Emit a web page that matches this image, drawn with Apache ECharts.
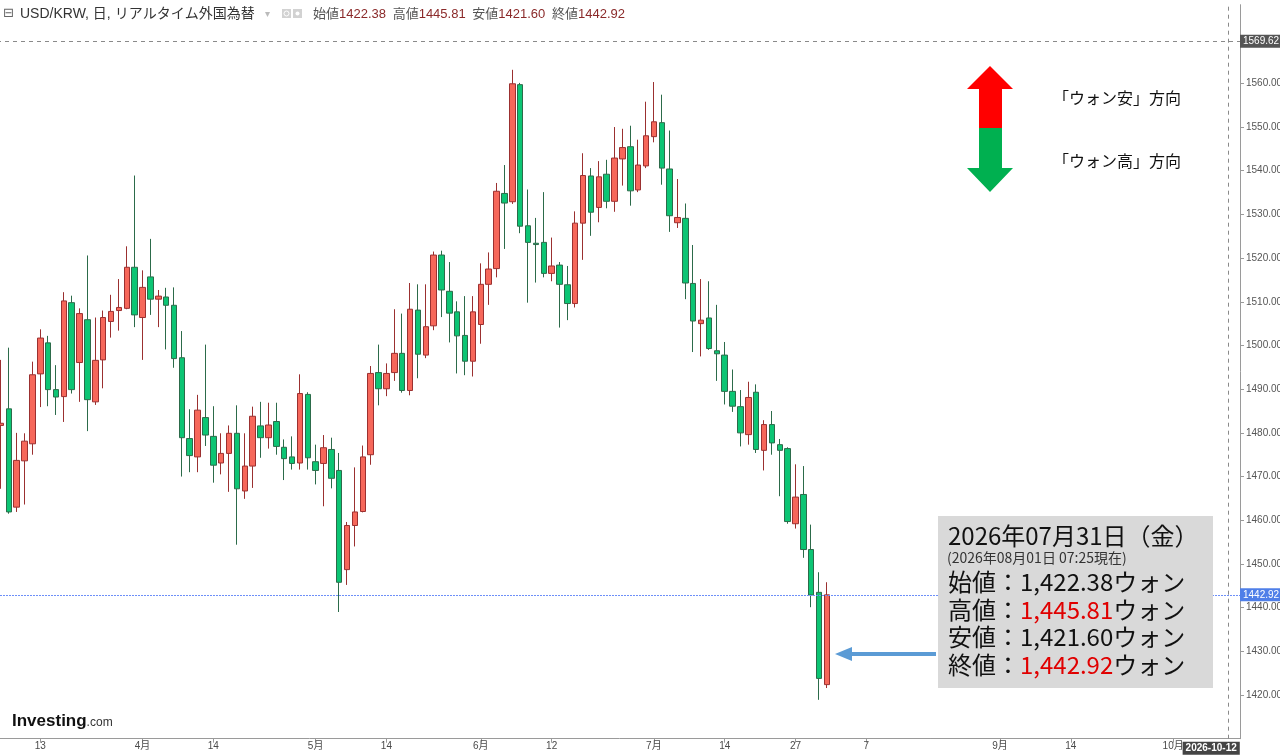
<!DOCTYPE html>
<html>
<head>
<meta charset="utf-8">
<script src="https://cdn.jsdelivr.net/npm/echarts@6/dist/echarts.min.js"></script>
<style>
html,body{margin:0;padding:0;background:#fff;overflow:hidden;}
#chart{width:1280px;height:755px;}
</style>
</head>
<body>
<div id="chart"></div>
<script>
// ---- data ----
const firstDate = '2026-03-06';
const lastAxisDate = '2026-10-13';
const openVals = [1481.7,1485.5,1463.0,1473.6,1477.5,1493.5,1500.6,1489.9,1488.3,1509.8,
1496.1,1505.9,1487.1,1496.7,1505.5,1508.0,1508.5,1517.9,1506.4,1515.7,
1510.6,1511.1,1509.2,1497.2,1478.7,1474.5,1483.5,1479.2,1473.1,1475.3,
1479.9,1466.7,1472.4,1481.6,1478.9,1482.6,1476.7,1474.5,1473.1,1488.8,
1473.4,1473.0,1476.2,1471.4,1448.7,1458.8,1462.0,1475.0,1493.8,1490.1,
1493.8,1498.2,1489.7,1508.1,1497.8,1504.5,1520.7,1512.4,1507.7,1502.3,
1496.4,1504.8,1514.0,1517.6,1534.8,1532.9,1559.7,1527.4,1523.4,1523.6,
1516.5,1518.4,1513.9,1509.6,1528.0,1538.8,1531.6,1539.2,1533.0,1542.7,
1545.5,1535.6,1541.1,1547.8,1551.0,1540.4,1528.1,1529.1,1514.2,1505.0,
1506.3,1498.8,1497.8,1489.5,1486.0,1479.6,1489.3,1476.0,1481.9,1477.3,
1476.4,1459.2,1465.9,1453.3,1443.5,1422.38];
const closeVals = [1482.2,1461.9,1473.7,1478.1,1493.3,1501.7,1489.9,1488.2,1510.2,1489.9,
1507.3,1487.6,1496.6,1506.4,1507.8,1508.7,1517.9,1507.0,1513.3,1510.6,
1511.3,1509.2,1497.0,1478.9,1474.8,1485.2,1479.5,1472.6,1475.3,1479.9,
1467.2,1472.4,1483.8,1478.9,1481.8,1476.9,1474.1,1473.0,1489.0,1474.3,
1471.4,1476.6,1469.6,1445.8,1458.8,1461.9,1474.5,1493.6,1490.1,1493.6,
1498.2,1489.7,1508.3,1498.0,1504.3,1520.7,1512.7,1507.4,1502.2,1496.4,
1507.7,1514.0,1517.5,1535.3,1532.6,1559.9,1527.3,1523.6,1523.1,1516.5,
1518.2,1514.0,1509.6,1528.0,1538.9,1530.5,1538.6,1533.0,1542.9,1545.3,
1535.4,1541.3,1548.0,1551.2,1540.6,1529.7,1529.3,1514.3,1505.6,1505.8,
1499.3,1498.1,1489.5,1486.1,1480.0,1488.1,1476.2,1481.9,1477.7,1476.0,
1459.7,1465.3,1453.3,1442.9,1423.8,1442.92];
const lowVals = [1467.2,1461.5,1461.9,1463.6,1475.0,1485.9,1486.1,1484.1,1482.5,1489.0,
1487.1,1480.4,1486.4,1490.2,1501.8,1503.4,1508.3,1504.2,1496.7,1507.0,
1504.2,1499.1,1494.9,1470.0,1471.0,1471.0,1477.0,1468.6,1470.5,1466.5,
1454.4,1464.9,1467.4,1474.3,1476.4,1475.0,1469.2,1471.6,1471.6,1471.6,
1468.2,1463.2,1467.3,1439.0,1445.2,1454.0,1461.8,1472.7,1486.3,1488.4,
1491.9,1489.2,1488.6,1492.5,1497.1,1503.5,1506.5,1500.7,1493.6,1493.2,
1492.9,1500.4,1509.3,1515.6,1522.1,1532.4,1525.7,1509.8,1514.4,1515.6,
1514.7,1504.1,1505.8,1508.7,1519.6,1525.1,1528.2,1531.4,1530.6,1536.6,
1532.0,1535.1,1540.6,1546.5,1536.8,1526.0,1526.9,1510.6,1498.5,1497.5,
1499.0,1491.9,1486.5,1484.8,1476.9,1477.3,1475.4,1471.4,1475.0,1465.5,
1459.2,1458.1,1451.4,1440.1,1418.9,1421.60];
const highVals = [1496.7,1499.5,1480.0,1479.9,1496.3,1503.7,1502.2,1495.5,1512.2,1511.4,
1508.5,1520.6,1506.4,1508.0,1511.6,1515.2,1522.7,1538.9,1517.2,1524.4,
1512.7,1513.2,1513.3,1503.3,1485.4,1488.7,1500.2,1486.1,1479.9,1481.7,
1486.3,1479.9,1486.0,1487.1,1486.9,1486.9,1478.5,1479.2,1493.4,1489.3,
1477.3,1479.5,1478.9,1475.4,1459.6,1472.1,1477.1,1495.3,1500.2,1495.9,
1508.3,1507.3,1514.3,1514.0,1514.0,1521.5,1521.7,1519.1,1510.1,1511.3,
1511.3,1518.8,1521.3,1537.2,1541.3,1563.1,1560.1,1535.7,1529.2,1535.1,
1524.7,1519.1,1518.2,1530.7,1544.0,1540.6,1542.2,1542.5,1550.0,1549.6,
1550.3,1547.1,1555.8,1560.3,1557.4,1549.2,1538.1,1532.5,1523.0,1515.2,
1514.7,1509.3,1500.8,1494.5,1489.8,1491.7,1491.1,1482.9,1485.0,1478.6,
1476.7,1472.8,1472.4,1459.0,1448.1,1445.81];
const tickDates = ['2026-03-13','2026-04-01','2026-04-14','2026-05-01','2026-05-14','2026-06-01','2026-06-12','2026-07-01','2026-07-14','2026-07-27','2026-08-07','2026-09-01','2026-09-14','2026-10-01'];
const tickTexts = ['13','4月','14','5月','14','6月','12','7月','14','27','7','9月','14','10月'];
const crosshairDate = '2026-10-12';
const crosshairPrice = 1569.62;
const lastDayLabel = '2026年07月31日（金）';
const asOfLabel = '(2026年08月01日 07:25現在)';

// ---- build ----
function buildWeekdays(a, b) {
  const out = [];
  let d = new Date(a + 'T00:00:00Z');
  const end = new Date(b + 'T00:00:00Z');
  while (d <= end) {
    const w = d.getUTCDay();
    if (w !== 0 && w !== 6) out.push(d.toISOString().slice(0, 10));
    d = new Date(d.getTime() + 86400000);
  }
  return out;
}
const categories = buildWeekdays(firstDate, lastAxisDate);
const tickMap = {};
tickDates.forEach((d, i) => tickMap[d] = tickTexts[i]);
const candleData = openVals.map((o, i) => [o, closeVals[i], lowVals[i], highVals[i]]);
const n = openVals.length - 1;
const lastO = openVals[n], lastC = closeVals[n], lastL = lowVals[n], lastH = highVals[n];
const fmt2 = v => v.toFixed(2);
const fmtC = v => v.toLocaleString('en-US', {minimumFractionDigits: 2, maximumFractionDigits: 2});

const SANS = '"Liberation Sans", "Noto Sans CJK JP", sans-serif';
const JP = '"Noto Sans CJK JP", sans-serif';

const chart = echarts.init(document.getElementById('chart'), null, {renderer: 'canvas'});
const tickInterval = (idx, val) => tickMap[val] !== undefined;
const Z = 100;

const option = {
  animation: false,
  backgroundColor: '#ffffff',
  grid: {left: -3, right: 40, top: 4.7, bottom: 16.3, containLabel: false, outerBoundsMode: 'none'},
  xAxis: {
    type: 'category',
    data: categories,
    boundaryGap: true,
    axisLine: {show: true, lineStyle: {color: '#9a9a9a', width: 1}},
    axisTick: {show: true, interval: tickInterval, alignWithLabel: true, length: 4, lineStyle: {color: '#9a9a9a'}},
    axisLabel: {show: true, interval: tickInterval, formatter: v => tickMap[v] || '', color: '#4a4a4a', fontSize: 10, fontFamily: SANS, margin: 3, hideOverlap: false},
    splitLine: {show: false}
  },
  yAxis: {
    type: 'value',
    position: 'right',
    min: 1410,
    max: 1578,
    interval: 10,
    axisLine: {show: true, lineStyle: {color: '#9a9a9a', width: 1}},
    axisTick: {show: true, length: 4, lineStyle: {color: '#9a9a9a'}},
    axisLabel: {
      show: true, color: '#555', fontSize: 10, fontFamily: SANS, margin: 6,
      showMinLabel: false, showMaxLabel: false,
      formatter: v => (v >= 1420 && v <= 1560 && Math.abs(v % 10) < 1e-6) ? fmt2(v) : ''
    },
    splitLine: {show: false}
  },
  series: [{
    type: 'candlestick',
    data: candleData,
    barWidth: 6,
    itemStyle: {
      color: '#f6675a',
      color0: '#0cc574',
      borderColor: '#9b3030',
      borderColor0: '#2c6b4a',
      borderWidth: 1
    },
    markLine: {
      silent: true,
      symbol: ['none', 'none'],
      animation: false,
      data: [
        {yAxis: crosshairPrice,
         lineStyle: {color: '#8a8a8a', type: [4, 4], width: 1},
         label: {show: true, position: 'end', distance: 0, formatter: fmt2(crosshairPrice),
                 backgroundColor: '#555', color: '#fff', fontSize: 10, fontFamily: SANS, padding: [2, 3, 1, 3]}},
        {yAxis: lastC,
         lineStyle: {color: '#6d8ff8', type: [2, 1], width: 1, opacity: 1},
         label: {show: true, position: 'end', distance: 0, formatter: fmt2(lastC),
                 backgroundColor: '#4f7fe8', color: '#fff', fontSize: 10, fontFamily: SANS, padding: [2, 3, 1, 3]}},
        {xAxis: crosshairDate,
         lineStyle: {color: '#8a8a8a', type: [4, 4], width: 1},
         label: {show: true, position: 'start', distance: 3, formatter: crosshairDate, align: 'center', offset: [-17, 0],
                 backgroundColor: '#444', color: '#fff', fontSize: 10, fontWeight: 'bold', fontFamily: SANS, padding: [2, 3, 1, 3]}}
      ]
    }
  }],
  graphic: [
    // header
    {type: 'text', z: Z, x: 3, y: 14, style: {text: '⊟', font: '13px "DejaVu Sans", sans-serif', fill: '#666', verticalAlign: 'middle'}},
    {type: 'text', z: Z, x: 20, y: 14, style: {text: 'USD/KRW, 日, リアルタイム外国為替', font: '14px ' + SANS, fill: '#333', verticalAlign: 'middle'}},
    {type: 'text', z: Z, x: 265, y: 14, style: {text: '▾', font: '10px "DejaVu Sans", sans-serif', fill: '#bbb', verticalAlign: 'middle'}},
    {type: 'rect', z: Z, shape: {x: 282, y: 9, width: 9, height: 9}, style: {fill: '#d2d2d2'}},
    {type: 'circle', z: Z + 1, shape: {cx: 286.5, cy: 13.5, r: 2.5}, style: {fill: 'none', stroke: '#fff', lineWidth: 1}},
    {type: 'rect', z: Z, shape: {x: 293, y: 9, width: 9, height: 9}, style: {fill: '#d2d2d2'}},
    {type: 'circle', z: Z + 1, shape: {cx: 297.5, cy: 13.5, r: 2}, style: {fill: '#fff'}},
    {type: 'text', z: Z, x: 313, y: 14, style: {
      text: '{l|始値}{v|' + fmt2(lastO) + '}  {l|高値}{v|' + fmt2(lastH) + '}  {l|安値}{v|' + fmt2(lastL) + '}  {l|終値}{v|' + fmt2(lastC) + '}',
      verticalAlign: 'middle',
      rich: {l: {font: '13px ' + SANS, fill: '#555'}, v: {font: '13px ' + SANS, fill: '#8b2a2a'}}
    }},
    // direction arrows
    {type: 'polygon', z: Z, shape: {points: [[990, 66], [1013, 89], [1002, 89], [1002, 128], [979, 128], [979, 89], [967, 89]]}, style: {fill: '#ff0000'}},
    {type: 'polygon', z: Z, shape: {points: [[979, 128], [1002, 128], [1002, 168], [1013, 168], [990, 192], [967, 168], [979, 168]]}, style: {fill: '#00b050'}},
    {type: 'text', z: Z, x: 1053, y: 98, style: {text: '「ウォン安」方向', font: '16px ' + JP, fill: '#111', verticalAlign: 'middle'}},
    {type: 'text', z: Z, x: 1053, y: 161, style: {text: '「ウォン高」方向', font: '16px ' + JP, fill: '#111', verticalAlign: 'middle'}},
    // info box
    {type: 'rect', z: Z, shape: {x: 938, y: 516, width: 275, height: 172}, style: {fill: '#d9d9d9'}},
    {type: 'text', z: Z + 1, x: 948, y: 536, style: {text: lastDayLabel, font: '24px ' + JP, fill: '#111', verticalAlign: 'middle'}},
    {type: 'text', z: Z + 1, x: 947, y: 558, style: {text: asOfLabel, font: '14px ' + JP, fill: '#333', verticalAlign: 'middle'}},
    {type: 'text', z: Z + 1, x: 948, y: 582, style: {text: '{k|始値：}{n|' + fmtC(lastO) + '}{k|ウォン}', verticalAlign: 'middle',
      rich: {k: {font: '24px ' + JP, fill: '#111'}, n: {font: '24px ' + JP, fill: '#111'}}}},
    {type: 'text', z: Z + 1, x: 948, y: 610, style: {text: '{k|高値：}{n|' + fmtC(lastH) + '}{k|ウォン}', verticalAlign: 'middle',
      rich: {k: {font: '24px ' + JP, fill: '#111'}, n: {font: '24px ' + JP, fill: '#e00000'}}}},
    {type: 'text', z: Z + 1, x: 948, y: 637, style: {text: '{k|安値：}{n|' + fmtC(lastL) + '}{k|ウォン}', verticalAlign: 'middle',
      rich: {k: {font: '24px ' + JP, fill: '#111'}, n: {font: '24px ' + JP, fill: '#111'}}}},
    {type: 'text', z: Z + 1, x: 948, y: 665, style: {text: '{k|終値：}{n|' + fmtC(lastC) + '}{k|ウォン}', verticalAlign: 'middle',
      rich: {k: {font: '24px ' + JP, fill: '#111'}, n: {font: '24px ' + JP, fill: '#e00000'}}}},
    // pointer arrow
    {type: 'rect', z: Z, shape: {x: 850, y: 652, width: 86, height: 4}, style: {fill: '#5b9bd5'}},
    {type: 'polygon', z: Z, shape: {points: [[835, 654], [852, 647], [852, 661]]}, style: {fill: '#5b9bd5'}},
    // logo
    {type: 'text', z: Z, x: 12, y: 721, style: {
      text: '{a|Investing}{b|.com}', verticalAlign: 'middle',
      rich: {a: {font: 'bold 17px ' + SANS, fill: '#111'}, b: {font: '12px ' + SANS, fill: '#333', padding: [3, 0, 0, 0]}}
    }}
  ]
};
chart.setOption(option);
</script>
</body>
</html>
